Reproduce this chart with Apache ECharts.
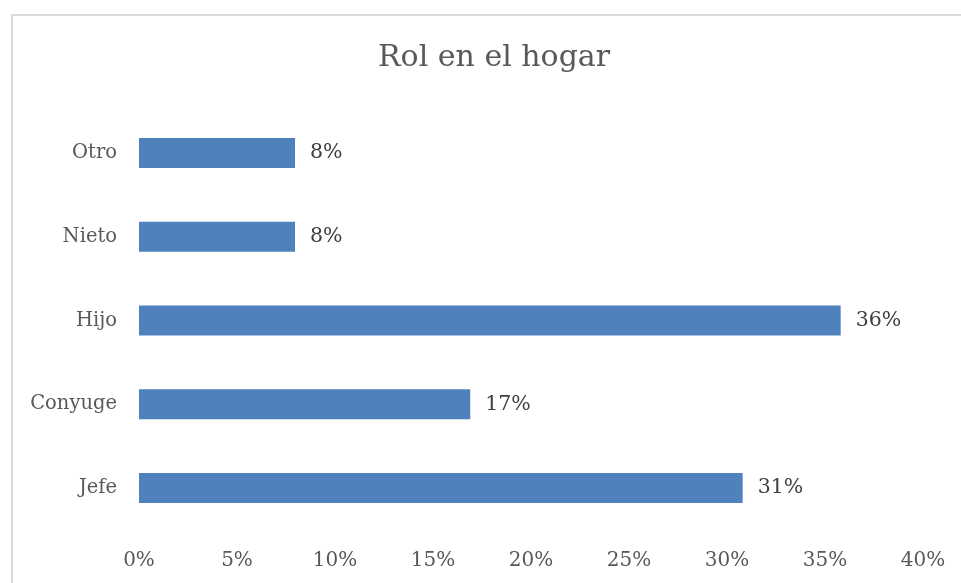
<!DOCTYPE html>
<html>
<head>
<meta charset="utf-8">
<script src="https://cdn.jsdelivr.net/npm/echarts@6/dist/echarts.min.js"></script>
<style>
  html, body { margin: 0; padding: 0; background: #fff; }
  #main { width: 961px; height: 583px; }
  #frame { position: absolute; left: 11px; top: 14px; width: 960px; height: 580px; border: 2px solid #d9d9d9; box-sizing: border-box; pointer-events: none; }
</style>
</head>
<body>
<div id="main"></div>
<div id="frame"></div>
<script>
var categories = ['Jefe', 'Conyuge', 'Hijo', 'Nieto', 'Otro'];
var values = [30.8, 16.9, 35.8, 7.96, 7.96];
var xTicks = [0, 5, 10, 15, 20, 25, 30, 35, 40];

var fontFam = '"DejaVu Serif", serif';
var myChart = echarts.init(document.getElementById('main'));

var option = {
    animation: false,
    title: {
        text: 'Rol en el hogar',
        left: 373,
        top: 38,
        textStyle: { fontFamily: fontFam, fontWeight: 'normal', fontSize: 30, color: '#595959' }
    },
    grid: { left: 139, right: 38, top: 111, bottom: 53 },
    xAxis: {
        type: 'value',
        min: xTicks[0],
        max: xTicks[xTicks.length - 1],
        interval: 5,
        axisLine: { show: false },
        axisTick: { show: false },
        splitLine: { show: false },
        axisLabel: {
            margin: 21,
            fontFamily: fontFam, fontSize: 20, color: '#595959',
            formatter: function (v) { return v + '%'; }
        }
    },
    yAxis: {
        type: 'category',
        data: categories,
        axisLine: { show: false },
        axisTick: { show: false },
        axisLabel: { margin: 22, fontFamily: fontFam, fontSize: 19.5, color: '#595959' }
    },
    series: [{
        type: 'bar',
        data: values,
        barWidth: 30,
        itemStyle: { color: '#4F81BD' },
        label: {
            show: true,
            position: 'right',
            distance: 15,
            fontFamily: fontFam, fontSize: 20.5, color: '#404040',
            formatter: function (p) { return Math.round(p.value) + '%'; }
        }
    }]
};

myChart.setOption(option);
window.onresize = function () { myChart.resize(); };
</script>
</body>
</html>
